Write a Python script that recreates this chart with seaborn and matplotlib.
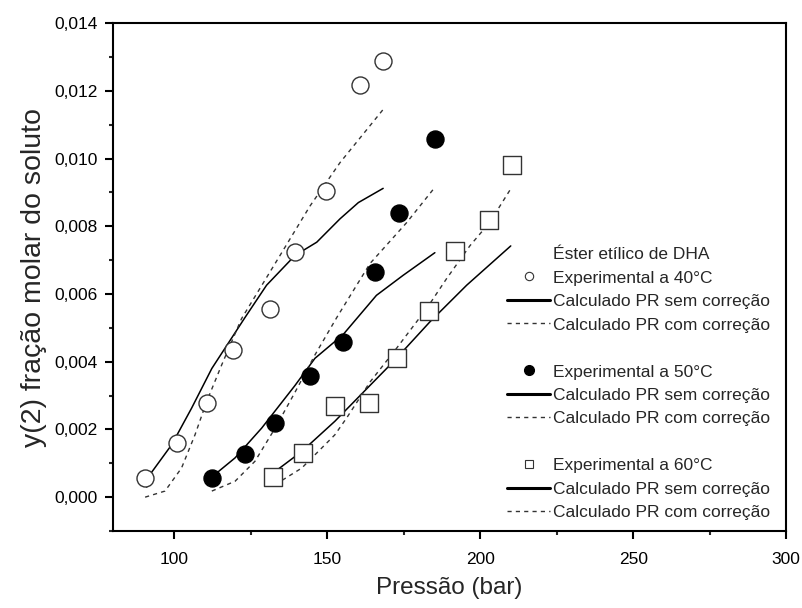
import numpy as np
import pandas as pd
import matplotlib
matplotlib.use("Agg")
import matplotlib.pyplot as plt
from matplotlib.lines import Line2D
from matplotlib.ticker import FuncFormatter, MultipleLocator
import seaborn as sns

# Experimental data (pressure in bar, y2 mole fraction)
p40 = [90.5, 100.8, 110.6, 119.1, 131.3, 139.5, 149.6, 160.7, 168.3]
y40 = [0.00058, 0.00160, 0.00277, 0.00435, 0.00555, 0.00725, 0.00905, 0.01218, 0.01288]
p50 = [112.3, 123.1, 132.9, 144.4, 155.1, 165.6, 173.6, 185.4]
y50 = [0.00058, 0.00128, 0.00218, 0.00357, 0.00457, 0.00666, 0.00838, 0.01058]
p60 = [132.2, 142.0, 152.6, 163.8, 172.7, 183.4, 191.8, 203.0, 210.3]
y60 = [0.00059, 0.00130, 0.00270, 0.00278, 0.00410, 0.00550, 0.00728, 0.00818, 0.00980]

# Calculated PR without correction (solid)
ps40 = [91.0, 92.1, 99.2, 105.7, 112.3, 123.1, 130.2, 139.5, 146.6, 154.2, 160.2, 168.3]
ys40 = [0.00030, 0.00067, 0.00155, 0.00263, 0.00380, 0.00530, 0.00626, 0.00714, 0.00753,
        0.00822, 0.00870, 0.00912]
ps50 = [113.3, 119.9, 128.6, 139.5, 146.0, 155.2, 166.1, 174.8, 185.2]
ys50 = [0.00067, 0.00116, 0.00204, 0.00330, 0.00410, 0.00480, 0.00596, 0.00655, 0.00722]
ps60 = [133.0, 141.7, 152.5, 164.0, 171.6, 183.6, 195.6, 210.0]
ys60 = [0.00076, 0.00135, 0.00224, 0.00330, 0.00400, 0.00518, 0.00626, 0.00742]

# Calculated PR with correction (dashed)
pc40 = [90.5, 97.0, 102.4, 106.8, 110.6, 115.5, 122.0, 134.6, 144.4, 154.2, 168.3]
yc40 = [0.00000, 0.00018, 0.00086, 0.00184, 0.00282, 0.00390, 0.00527, 0.00714, 0.00860,
        0.00988, 0.01145]
pc50 = [112.3, 119.9, 126.4, 133.0, 139.5, 146.0, 153.1, 164.0, 175.9, 185.2]
yc50 = [0.00018, 0.00047, 0.00106, 0.00204, 0.00310, 0.00420, 0.00530, 0.00690, 0.00810,
        0.00915]
pc60 = [133.0, 141.7, 152.5, 156.3, 164.0, 172.7, 182.5, 189.0, 196.7, 203.0, 210.3]
yc60 = [0.00037, 0.00086, 0.00184, 0.00233, 0.00340, 0.00440, 0.00557, 0.00645, 0.00743,
        0.00810, 0.00915]

x_ticks = [100, 150, 200, 250, 300]
y_ticks = [0.000, 0.002, 0.004, 0.006, 0.008, 0.010, 0.012, 0.014]

sns.set_style("ticks")
plt.rcParams['font.family'] = ['Liberation Sans', 'DejaVu Sans']

fig = plt.figure(figsize=(8.03, 6.08), dpi=100)
ax = fig.add_axes([0.1407, 0.1266, 0.979 - 0.1407, 0.962 - 0.1266])

dash = (0, (3, 3))
for p, y in [(ps40, ys40), (ps50, ys50), (ps60, ys60)]:
    sns.lineplot(x=p, y=y, ax=ax, color='black', lw=1.1, sort=False, estimator=None)
for p, y in [(pc40, yc40), (pc50, yc50), (pc60, yc60)]:
    sns.lineplot(x=p, y=y, ax=ax, color='#333333', lw=1.0, sort=False,
                 estimator=None, linestyle=dash)

s = 150
sns.scatterplot(x=p40, y=y40, ax=ax, marker='o', s=s, facecolor='white',
                edgecolor='#333333', linewidth=1.0, zorder=5)
sns.scatterplot(x=p50, y=y50, ax=ax, marker='o', s=s, color='black',
                edgecolor='black', linewidth=1.0, zorder=5)
sns.scatterplot(x=p60, y=y60, ax=ax, marker='s', s=s, facecolor='white',
                edgecolor='#333333', linewidth=1.0, zorder=5)

ax.set_xlim(80, 300)
ax.set_ylim(-0.001, 0.014)
ax.set_xticks(x_ticks)
ax.set_yticks(y_ticks)
ax.xaxis.set_minor_locator(MultipleLocator(25))
ax.yaxis.set_minor_locator(MultipleLocator(0.001))
ax.yaxis.set_major_formatter(FuncFormatter(lambda v, _: f"{v:.3f}".replace('.', ',')))
ax.tick_params(which='major', direction='out', length=6, width=1.5, labelsize=12.5,
               colors='black', top=False, right=False, pad=5)
ax.tick_params(axis='x', which='major', pad=9)
ax.tick_params(which='minor', direction='out', length=3, width=1.5, top=False, right=False)
for sp in ax.spines.values():
    sp.set_visible(True)
    sp.set_linewidth(1.5)
    sp.set_color('black')

ax.set_xlabel('Pressão (bar)', fontsize=17.5, labelpad=7)
ax.set_ylabel('y(2) fração molar do soluto', fontsize=20.5, labelpad=5)

blank = Line2D([], [], linestyle='none', marker=None)
solid = Line2D([], [], color='black', lw=2.2)
dashed = Line2D([], [], color='#333333', lw=1.0, linestyle=dash)
h_o = Line2D([], [], linestyle='none', marker='o', markersize=6,
             markerfacecolor='white', markeredgecolor='#333333', markeredgewidth=0.8)
h_f = Line2D([], [], linestyle='none', marker='o', markersize=7,
             markerfacecolor='black', markeredgecolor='black')
h_s = Line2D([], [], linestyle='none', marker='s', markersize=6,
             markerfacecolor='white', markeredgecolor='#333333', markeredgewidth=0.8)
handles = [blank, h_o, solid, dashed, blank, h_f, solid, dashed, blank, h_s, solid, dashed]
labels = ['Éster etílico de DHA',
          'Experimental a 40°C', 'Calculado PR sem correção', 'Calculado PR com correção', '',
          'Experimental a 50°C', 'Calculado PR sem correção', 'Calculado PR com correção', '',
          'Experimental a 60°C', 'Calculado PR sem correção', 'Calculado PR com correção']
leg = ax.legend(handles, labels, loc='upper left', bbox_to_anchor=(0.575, 0.573),
                frameon=False, fontsize=12.5, handlelength=2.5, handletextpad=0.15,
                labelspacing=0.48, borderaxespad=0)

fig.savefig('out.png', dpi=100)
